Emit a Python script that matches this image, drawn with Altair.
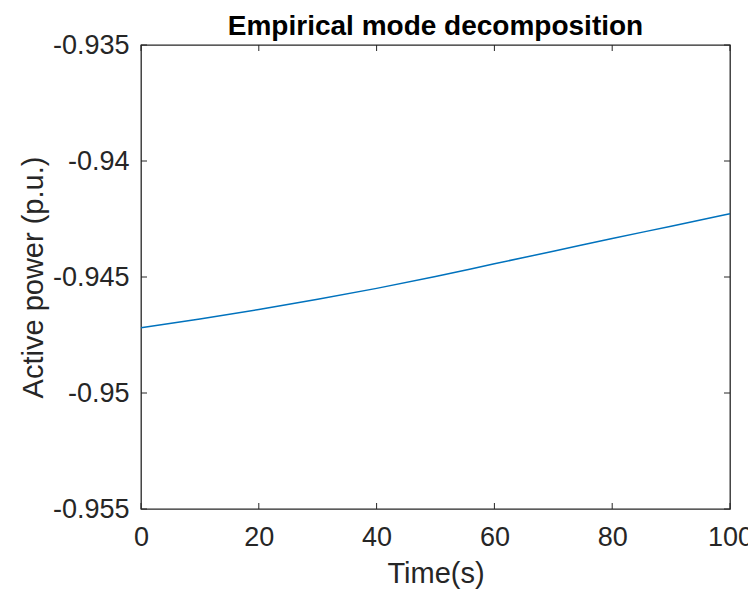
import altair as alt
import pandas as pd

# Data
time_s = [0, 10, 20, 30, 40, 50, 60, 70, 80, 90, 100]
power_pu = [-0.94719, -0.94681, -0.94640, -0.94596, -0.94549, -0.94498,
            -0.94443, -0.94389, -0.94334, -0.94281, -0.94227]
x_ticks = [0, 20, 40, 60, 80, 100]
y_ticks = [-0.955, -0.95, -0.945, -0.94, -0.935]

W, H = 589, 464
FONT = "Liberation Sans"
AX = "#262626"
TL = 6

df = pd.DataFrame({"t": time_s, "p": power_pu})
xt = pd.DataFrame({"x": x_ticks})
yt = pd.DataFrame({"y": y_ticks})

xscale = alt.Scale(domain=[0, 100], nice=False, zero=False)
yscale = alt.Scale(domain=[-0.955, -0.935], nice=False, zero=False)

line = alt.Chart(df).mark_line(color="#0072BD", strokeWidth=1.5, interpolate="monotone").encode(
    x=alt.X("t:Q", scale=xscale,
            axis=alt.Axis(values=x_ticks, title="Time(s)", tickSize=0, domain=False,
                          grid=False, labelFontSize=27, labelColor=AX, labelFont=FONT,
                          labelPadding=15, titleFontSize=29, titleFont=FONT,
                          titleFontWeight="normal", titleColor=AX, titlePadding=9,
                          labelFlush=False, labelOverlap=False)),
    y=alt.Y("p:Q", scale=yscale,
            axis=alt.Axis(values=y_ticks, title="Active power (p.u.)", tickSize=0,
                          domain=False, grid=False, labelFontSize=27, labelColor=AX,
                          labelFont=FONT, labelPadding=12, titleFontSize=29,
                          titleFont=FONT, titleFontWeight="normal", titleColor=AX,
                          titlePadding=4, labelFlush=False, labelOverlap=False,
                          labelExpr="replace(format(datum.value, '.3~f'), '\u2212', '-')")),
)

bottom_ticks = alt.Chart(xt).mark_rule(color=AX, strokeWidth=1).encode(
    x=alt.X("x:Q", scale=xscale), y=alt.value(H), y2=alt.value(H - TL))
top_ticks = alt.Chart(xt).mark_rule(color=AX, strokeWidth=1).encode(
    x=alt.X("x:Q", scale=xscale), y=alt.value(0), y2=alt.value(TL))
left_ticks = alt.Chart(yt).mark_rule(color=AX, strokeWidth=1).encode(
    y=alt.Y("y:Q", scale=yscale), x=alt.value(0), x2=alt.value(TL))
right_ticks = alt.Chart(yt).mark_rule(color=AX, strokeWidth=1).encode(
    y=alt.Y("y:Q", scale=yscale), x=alt.value(W), x2=alt.value(W - TL))

chart = alt.layer(line, bottom_ticks, top_ticks, left_ticks, right_ticks).properties(
    width=W, height=H,
    title=alt.TitleParams("Empirical mode decomposition", fontSize=28, font=FONT,
                          fontWeight="bold", color="#000000", anchor="middle",
                          offset=4, dy=14),
    autosize=alt.AutoSizeParams(type="none"),
    padding={"left": 141, "top": 45, "right": 18, "bottom": 82},
).configure(background="white").configure_view(stroke=AX, strokeWidth=1.3)

chart.save("out.html", embed_options={"renderer": "svg", "actions": False})
